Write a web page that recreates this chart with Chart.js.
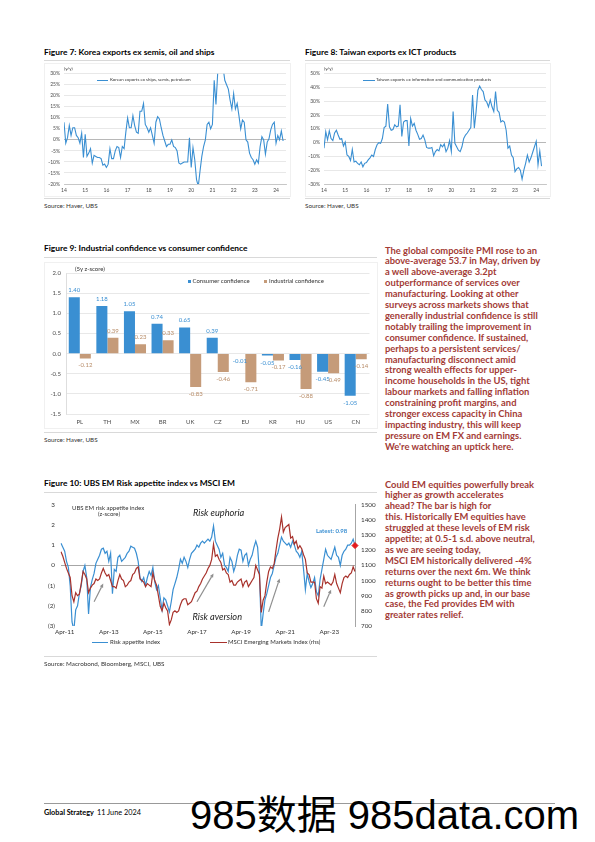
<!DOCTYPE html>
<html>
<head>
<meta charset="utf-8">
<script src="https://cdn.jsdelivr.net/npm/chart.js@4.4.1/dist/chart.umd.min.js"></script>
<style>
  body { margin: 0; background: #fff; }
  #page { position: relative; width: 595px; height: 842px; overflow: hidden; font-family: Lato, "Open Sans", sans-serif; color: #222; }
  .abs { position: absolute; white-space: nowrap; }
  .title { font-weight: 700; font-size: 8.4px; line-height: 10px; color: #000; }
  .rule { position: absolute; height: 0; border-top: 1px solid #d9d9d9; }
  .box { position: absolute; border: 1px solid #f0f0f0; }
  .src { font-size: 6.3px; line-height: 8px; color: #333; }
  .tiny { font-size: 4.4px; line-height: 6px; color: #333; }
  .small { font-size: 6px; line-height: 8px; color: #333; }
  .para { position: absolute; left: 385px; font-weight: 700; font-size: 9.4px; line-height: 10.9px; color: #a33b36; white-space: nowrap; }
  .swatch { position: absolute; height: 0; }
  canvas { position: absolute; }
</style>
</head>
<body>
<div id="page">

  <!-- Figure 7 -->
  <div class="abs title" style="left:44px;top:46.5px">Figure 7: Korea exports ex semis, oil and ships</div>
  <div class="rule" style="left:44px;top:60px;width:246px"></div>
  <div class="box" style="left:44px;top:63px;width:245px;height:132px"></div>
  <canvas id="c7" width="250" height="135" style="left:40px;top:62px"></canvas>
  <div class="abs tiny" style="left:64px;top:65.7px">(y/y)</div>
  <div class="swatch" style="left:97px;top:79.5px;width:11px;border-top:1.1px solid #3a8fd2"></div>
  <div class="abs tiny" style="left:110px;top:77px">Korean exports ex ships, semis, petroleum</div>
  <div class="rule" style="left:44px;top:198px;width:246px"></div>
  <div class="abs src" style="left:44px;top:202px">Source: Haver, UBS</div>

  <!-- Figure 8 -->
  <div class="abs title" style="left:305px;top:46.5px">Figure 8: Taiwan exports ex ICT products</div>
  <div class="rule" style="left:305px;top:60px;width:245px"></div>
  <div class="box" style="left:305px;top:63px;width:244px;height:132px"></div>
  <canvas id="c8" width="250" height="135" style="left:300px;top:62px"></canvas>
  <div class="abs tiny" style="left:324px;top:65.7px">(y/y)</div>
  <div class="swatch" style="left:363px;top:79.5px;width:11.5px;border-top:1.1px solid #3a8fd2"></div>
  <div class="abs tiny" style="left:376px;top:77px">Taiwan exports ex information and communication products</div>
  <div class="rule" style="left:305px;top:198px;width:245px"></div>
  <div class="abs src" style="left:305px;top:202px">Source: Haver, UBS</div>

  <!-- Figure 9 -->
  <div class="abs title" style="left:44px;top:243px">Figure 9: Industrial confidence vs consumer confidence</div>
  <div class="rule" style="left:44px;top:257px;width:333px"></div>
  <div class="box" style="left:44px;top:262px;width:332px;height:165px"></div>
  <canvas id="c9" width="340" height="172" style="left:40px;top:258px"></canvas>
  <div class="abs small" style="left:75px;top:265px">(5y z-score)</div>
  <div class="abs" style="left:187.5px;top:279.5px;width:3px;height:3px;background:#3a8fd2"></div>
  <div class="abs small" style="left:192.5px;top:277px">Consumer confidence</div>
  <div class="abs" style="left:264px;top:279.5px;width:3px;height:3px;background:#c59b79"></div>
  <div class="abs small" style="left:269px;top:277px">Industrial confidence</div>
  <div class="rule" style="left:44px;top:432px;width:333px"></div>
  <div class="abs src" style="left:44px;top:436px">Source: Haver, UBS</div>

  <div class="para" style="top:245.5px">The global composite PMI rose to an<br>above-average 53.7 in May, driven by<br>a well above-average 3.2pt<br>outperformance of services over<br>manufacturing. Looking at other<br>surveys across markets shows that<br>generally industrial confidence is still<br>notably trailing the improvement in<br>consumer confidence. If sustained,<br>perhaps to a persistent services/<br>manufacturing disconnect amid<br>strong wealth effects for upper-<br>income households in the US, tight<br>labour markets and falling inflation<br>constraining profit margins, and<br>stronger excess capacity in China<br>impacting industry, this will keep<br>pressure on EM FX and earnings.<br>We're watching an uptick here.</div>

  <!-- Figure 10 -->
  <div class="abs title" style="left:44px;top:478.3px">Figure 10: UBS EM Risk appetite index vs MSCI EM</div>
  <div class="rule" style="left:44px;top:492px;width:333px"></div>
  <canvas id="c10" width="345" height="142" style="left:40px;top:495px"></canvas>
  <div class="abs small" style="left:72px;top:503.7px">UBS EM risk appetite index</div>
  <div class="abs small" style="left:98px;top:510px">(z-score)</div>
  <div class="abs" style="left:193px;top:507px;font-size:9.2px;line-height:12px;font-style:italic;color:#222">Risk euphoria</div>
  <div class="abs" style="left:192.5px;top:610.7px;font-size:9.2px;line-height:12px;font-style:italic;color:#222">Risk aversion</div>
  <div class="abs" style="left:316px;top:527px;font-size:6px;line-height:8px;font-weight:700;color:#3a8fd2">Latest: 0.98</div>
  <div class="swatch" style="left:91.7px;top:641.5px;width:16.6px;border-top:1.5px solid #3a8fd2"></div>
  <div class="abs small" style="left:110px;top:638px">Risk appetite index</div>
  <div class="swatch" style="left:210px;top:641.5px;width:16.7px;border-top:1.5px solid #a8322c"></div>
  <div class="abs small" style="left:228px;top:638px">MSCI Emerging Markets Index (rhs)</div>
  <div class="rule" style="left:44px;top:656px;width:333px"></div>
  <div class="abs src" style="left:44px;top:660px">Source: Macrobond, Bloomberg, MSCI, UBS</div>

  <div class="para" style="top:479.5px">Could EM equities powerfully break<br>higher as growth accelerates<br>ahead? The bar is high for<br>this. Historically EM equities have<br>struggled at these levels of EM risk<br>appetite; at 0.5-1 s.d. above neutral,<br>as we are seeing today,<br>MSCI EM historically delivered -4%<br>returns over the next 6m. We think<br>returns ought to be better this time<br>as growth picks up and, in our base<br>case, the Fed provides EM with<br>greater rates relief.</div>

  <!-- Footer -->
  <div class="rule" style="left:44px;top:803px;width:511px;border-top-color:#999"></div>
  <div class="abs" style="left:44px;top:809px;font-size:7.3px;line-height:8px;font-weight:700;color:#000">Global Strategy</div>
  <div class="abs" style="left:97px;top:809px;font-size:7.3px;line-height:8px;color:#000">11 June 2024</div>
  <div class="abs" style="left:190px;top:795px;font-family:'Liberation Sans','Noto Sans CJK SC',sans-serif;font-size:40px;line-height:40px;color:#000">985数据 985data.com</div>
</div>

<script>
// ---- Figure 7: Korea exports ex semis, oil and ships (% y/y, monthly from Jan 2014)
const koreaStartYear = 2014;
const koreaExports = [
  8, -1.5, 1, 6.5, 2, 5.5, 5.5, 2, 1, -1.5, 3, -8,
  2.5, -7.5, -6, -4, -10.5, -7, -7.5, -8, -8, -8.5, -11.5, -11,
  -12.5, -11, -4, -8.5, -8.5, -5, -3, -3.5, -8, -3, -4, 3.5,
  10, 5.5, 5.5, 11, 6.5, 3.5, 3, 13, 13, 16.5, 7, 5.5,
  3.5, 5.5, 2, -1.5, 8, 10.5, 9.5, 5.5, 2, -0.5, -3, -2,
  -2, 0, -3, -3.5, -5, -10.5, -11, -10.5, -10, -10, -10, 1,
  -12.5, -3.5, -9, -18, -21, -14, -7.5, -3, 0, 7, 8, 5,
  7, 27, 16, 30.5, 33, 31, 33, 27, 25, 23, 18, 14,
  21, 14, 16.5, 11, 5, 9, 8, 0, -1, -6, -8, -9,
  -11, -9, -10.5, -3, 1.5, 0, -6.5, -1, 0.5, 4.5, 7, 8,
  -1.5, 2, 0, 4, -0.5
];

// ---- Figure 8: Taiwan exports ex ICT products (% y/y, monthly from Jan 2014)
const taiwanStartYear = 2014;
const taiwanExports = [
  -4, 8, 2, 8.5, 3, 1.5, 7, 9, 5.5, 2.5, 3, -2.5,
  0.5, -9, -10, -13, -5, -14, -13.5, -15, -16, -14, -17.5, -15,
  -14.5, -12.5, -11, -9, -10, -5, -1.5, 0, -0.5, 3, 11, 12,
  28, 11.5, 9, 9.5, 13, 11.5, 12, 27.5, 4.5, 15, 16, 16,
  -2.5, 17.5, 12, 14, 9, 6, 2.5, 3, 5.5, 2, -3.5, -4,
  -4, -3.5, -9.5, -6.5, -5, -6, -1.5, -3, -1, -6.5, -4, 1.5,
  -6.5, 22.5, -0.5, -3, -5.5, -6.5, -3, 3, 5.5, 7, 9, 11,
  34.5, 10.5, 22.5, 38, 41, 38.5, 37, 31, 29.5, 26, 31, 26,
  22.5, 37, 23.5, 22, 15, 16, 15, 9, -4, -2.5, -9, -11,
  -21, -19, -18, -20, -26.5, -20, -15, -9, -14, -11, -7, -3,
  1, -16, -6, -17
];

// ---- Figure 9: confidence z-scores
const confCountries = ['PL', 'TH', 'MX', 'BR', 'UK', 'CZ', 'EU', 'KR', 'HU', 'US', 'CN'];
const consumerConf = [1.40, 1.18, 1.05, 0.74, 0.65, 0.39, -0.01, -0.05, -0.16, -0.45, -1.05];
const industrialConf = [-0.12, 0.39, 0.23, 0.33, -0.83, -0.46, -0.71, -0.17, -0.88, -0.49, -0.14];

// ---- Figure 10: risk appetite (z-score) vs MSCI EM, monthly Feb 2011 - Jun 2024
const riskAppetite = [
  1.1, 0.9, 0.7, 0.2, -0.1, -1.0, -2.8, -3.2, -2.2, -2.0, -1.4,
  -1.0, -0.3, 0.0, -0.6, -2.4, -1.1, -0.7, -0.4, 0.1, 0.3, 0.5, 0.8,
  0.85, 0.6, 0.7, 0.2, 0.6, -1.4, -0.2, -0.3, 0.4, 0.5, 0.2, 0.3,
  0.4, 0.6, 0.7, 0.95, 0.9, 0.85, 0.6, 0.2, -0.6, -0.8, -0.6, -1.0,
  -0.6, -0.3, -0.5, -0.1, -0.8, -1.2, -1.0, -1.6, -2.2, -1.6, -1.7, -2.0,
  -2.3, -1.8, -1.2, -0.9, -0.6, -0.2, 0.3, 0.1, 0.4, 0.2, -0.1, 0.3,
  0.6, 0.7, 0.8, 1.0, 0.9, 1.1, 1.2, 1.1, 1.2, 1.3, 1.2, 1.4,
  1.95, 1.2, 1.0, 0.8, 0.4, 0.6, 0.0, -0.1, -0.3, 0.4, 0.2, -0.3,
  0.0, 0.5, 0.8, 0.75, 0.2, 0.5, 0.6, 0.0, 0.3, 0.5, 0.9, 1.2,
  0.9, -0.4, -3.2, -2.4, -1.7, -1.4, -1.0, -0.6, -0.4, 0.0, 0.4, 0.6,
  1.0, 1.4, 1.2, 1.1, 1.0, 1.1, 0.9, 1.2, 1.0, 0.7, 0.6, 0.4,
  0.7, -0.2, -1.2, -0.4, -0.8, -1.1, -0.9, -0.6, -1.3, -1.5, -0.7, -0.2,
  0.3, 0.8, 0.5, 0.4, 0.3, 0.6, 0.9, 0.5, 0.4, 0.0, 0.5, 0.7,
  0.8, 1.0, 1.0, 1.1, 1.3, 0.98
];
const msciEm = [
  1190, 1160, 1120, 1080, 1050, 1020, 900, 860, 920, 900, 910,
  980, 1060, 1040, 1010, 920, 950, 970, 980, 1010, 1000, 1010, 1050,
  1080, 1050, 1030, 1040, 1000, 960, 960, 950, 1000, 1040, 1010, 1000,
  960, 970, 990, 1000, 1040, 1050, 1080, 1090, 1010, 1000, 990, 960,
  980, 970, 960, 1050, 1000, 970, 900, 830, 800, 850, 820, 800,
  710, 740, 790, 800, 790, 800, 840, 870, 880, 880, 840, 850,
  860, 890, 920, 930, 960, 980, 1010, 1030, 1050, 1080, 1100, 1140,
  1240, 1160, 1170, 1140, 1120, 1070, 1080, 1050, 1040, 990, 1000, 970,
  970, 990, 1000, 1010, 960, 990, 1000, 960, 980, 1000, 1020, 1100,
  1070, 1040, 790, 870, 900, 990, 1060, 1090, 1080, 1110, 1200, 1280,
  1340, 1420, 1320, 1350, 1360, 1370, 1280, 1290, 1240, 1260, 1210, 1230,
  1210, 1170, 1140, 1050, 1040, 990, 990, 990, 880, 850, 960, 950,
  1030, 980, 990, 980, 970, 990, 1040, 980, 950, 920, 980, 1020,
  1030, 1020, 1040, 1050, 1090, 1060
];
const emTickLabels = ['Apr-11', 'Apr-13', 'Apr-15', 'Apr-17', 'Apr-19', 'Apr-21', 'Apr-23'];
const emArrows = [
  { from: ['Aug-12', -1.8], to: ['Jan-13', -0.9] },
  { from: ['Apr-17', -1.8], to: ['Jan-18', -0.4] },
  { from: ['Jul-20', -2.3], to: ['Jan-21', -0.65] },
  { from: ['Jan-23', -2.05], to: ['May-23', -1.2] }
];

const BLUE = '#3a8fd2';
const TAN = '#c59b79';
const TAN_TEXT = '#b88d69';
const RED = '#a8322c';
const AXIS_TEXT = '#4d4d4d';

Chart.defaults.font.family = 'Lato, "Open Sans", sans-serif';
Chart.defaults.animation = false;
Chart.defaults.events = [];
Chart.defaults.plugins.legend.display = false;
Chart.defaults.plugins.tooltip.enabled = false;

const MONTHS = ['Jan', 'Feb', 'Mar', 'Apr', 'May', 'Jun', 'Jul', 'Aug', 'Sep', 'Oct', 'Nov', 'Dec'];
const monthlyPoints = (startYear, values) => values.map((v, i) => ({ x: startYear + i / 12, y: v }));

function exportsChart(canvasId, startYear, values, yMin, yMax, yStep, xMax) {
  return new Chart(document.getElementById(canvasId), {
    type: 'line',
    data: {
      datasets: [{
        data: monthlyPoints(startYear, values),
        borderColor: BLUE,
        borderWidth: 1.1,
        pointRadius: 0,
        tension: 0
      }]
    },
    options: {
      responsive: false,
      layout: { padding: { top: 11.7, right: 4, left: 0, bottom: 0 } },
      scales: {
        x: {
          type: 'linear',
          min: startYear,
          max: xMax,
          ticks: {
            stepSize: 1, includeBounds: false, padding: 3, maxRotation: 0,
            font: { size: 5 }, color: AXIS_TEXT,
            callback: v => String(Math.round(v)).slice(2)
          },
          grid: { display: false, drawTicks: false },
          border: { color: '#bfbfbf', width: 0.8 },
          afterFit: s => { s.height = 13; }
        },
        y: {
          min: yMin,
          max: yMax,
          ticks: { stepSize: yStep, padding: 4, font: { size: 5 }, color: AXIS_TEXT, callback: v => v + '%' },
          grid: { color: c => (c.tick.value === 0 ? '#a6a6a6' : '#e2e2e2'), lineWidth: 0.8, drawTicks: false },
          border: { display: false },
          afterFit: s => { s.width = 24; }
        }
      }
    }
  });
}

exportsChart('c7', koreaStartYear, koreaExports, -20, 30, 5, 2024.47);
exportsChart('c8', taiwanStartYear, taiwanExports, -30, 50, 10, 2024.46);

// bar value labels for figure 9
const barLabels = {
  id: 'barLabels',
  afterDatasetsDraw(chart) {
    const ctx = chart.ctx;
    ctx.save();
    ctx.font = '6px Lato, "Open Sans", sans-serif';
    ctx.textAlign = 'center';
    ctx.textBaseline = 'middle';
    chart.data.datasets.forEach((ds, i) => {
      chart.getDatasetMeta(i).data.forEach((bar, j) => {
        const v = ds.data[j];
        ctx.fillStyle = ds.labelColor;
        ctx.fillText(v.toFixed(2), bar.x, v >= 0 ? bar.y - 7 : bar.y + 7);
      });
    });
    ctx.restore();
  }
};

new Chart(document.getElementById('c9'), {
  type: 'bar',
  data: {
    labels: confCountries,
    datasets: [
      { label: 'Consumer confidence', data: consumerConf, backgroundColor: BLUE, labelColor: BLUE },
      { label: 'Industrial confidence', data: industrialConf, backgroundColor: TAN, labelColor: TAN_TEXT }
    ]
  },
  options: {
    responsive: false,
    layout: { padding: { top: 15, right: 10.5, left: 0, bottom: 0 } },
    datasets: { bar: { categoryPercentage: 0.8, barPercentage: 1.0 } },
    scales: {
      x: {
        ticks: { padding: 4.5, font: { size: 6 }, color: AXIS_TEXT },
        grid: { display: false, drawTicks: false },
        border: { display: false },
        afterFit: s => { s.height = 16; }
      },
      y: {
        min: -1.5,
        max: 2,
        ticks: { stepSize: 0.5, padding: 5, font: { size: 6 }, color: AXIS_TEXT, callback: v => v.toFixed(1) },
        grid: { color: '#e2e2e2', lineWidth: 0.8, drawTicks: false },
        border: { color: '#d6d6d6', width: 0.8 },
        afterFit: s => { s.width = 26; }
      }
    }
  },
  plugins: [barLabels]
});

// figure 10
const emMonths = riskAppetite.map((_, i) => {
  const k = i + 1; // series starts Feb 2011
  return MONTHS[k % 12] + '-' + String(11 + Math.floor(k / 12)).padStart(2, '0');
});
const latestMarker = riskAppetite.map((v, i) => (i === riskAppetite.length - 1 ? v : null));

const arrowNotes = {
  id: 'arrowNotes',
  afterDatasetsDraw(chart) {
    const ctx = chart.ctx;
    const xs = chart.scales.x;
    const ys = chart.scales.y;
    ctx.save();
    ctx.strokeStyle = '#8f8f8f';
    ctx.fillStyle = '#8f8f8f';
    ctx.lineWidth = 1.2;
    emArrows.forEach(a => {
      const x1 = xs.getPixelForValue(emMonths.indexOf(a.from[0]));
      const y1 = ys.getPixelForValue(a.from[1]);
      const x2 = xs.getPixelForValue(emMonths.indexOf(a.to[0]));
      const y2 = ys.getPixelForValue(a.to[1]);
      const ang = Math.atan2(y2 - y1, x2 - x1);
      const head = 4;
      const bx = x2 - head * Math.cos(ang);
      const by = y2 - head * Math.sin(ang);
      ctx.beginPath();
      ctx.moveTo(x1, y1);
      ctx.lineTo(bx, by);
      ctx.stroke();
      ctx.beginPath();
      ctx.moveTo(x2, y2);
      ctx.lineTo(bx + 1.8 * Math.sin(ang), by - 1.8 * Math.cos(ang));
      ctx.lineTo(bx - 1.8 * Math.sin(ang), by + 1.8 * Math.cos(ang));
      ctx.closePath();
      ctx.fill();
    });
    ctx.restore();
  }
};

new Chart(document.getElementById('c10'), {
  type: 'line',
  data: {
    labels: emMonths,
    datasets: [
      { data: latestMarker, yAxisID: 'y', showLine: false, pointStyle: 'rectRot', pointRadius: 3,
        pointBackgroundColor: '#e3191c', pointBorderColor: '#e3191c', clip: false },
      { data: msciEm, yAxisID: 'y2', borderColor: RED, borderWidth: 1.2, pointRadius: 0, tension: 0 },
      { data: riskAppetite, yAxisID: 'y', borderColor: BLUE, borderWidth: 1.2, pointRadius: 0, tension: 0 }
    ]
  },
  options: {
    responsive: false,
    layout: { padding: { top: 7, right: 0, left: 0, bottom: 0 } },
    scales: {
      x: {
        ticks: {
          autoSkip: false, maxRotation: 0, padding: 2, font: { size: 6.3 }, color: '#333',
          callback: (v, i) => (emTickLabels.includes(emMonths[i]) ? emMonths[i] : '')
        },
        grid: { display: false, drawTicks: false },
        border: { display: false },
        afterFit: s => { s.height = 11; }
      },
      y: {
        position: 'left',
        min: -3,
        max: 3,
        ticks: { stepSize: 1, padding: 6, font: { size: 6.3 }, color: '#333', callback: v => (v < 0 ? '(' + (-v) + ')' : v) },
        grid: { color: c => (c.tick.value === 0 ? '#a6a6a6' : 'rgba(0,0,0,0)'), lineWidth: 1, drawTicks: false },
        border: { display: false },
        afterFit: s => { s.width = 21; }
      },
      y2: {
        position: 'right',
        min: 700,
        max: 1500,
        ticks: { stepSize: 100, padding: 6, font: { size: 6.3 }, color: '#333', callback: v => String(v) },
        grid: { display: false, drawTicks: false },
        border: { color: '#a6a6a6', width: 1 },
        afterFit: s => { s.width = 30; }
      }
    }
  },
  plugins: [arrowNotes]
});
</script>
</body>
</html>
